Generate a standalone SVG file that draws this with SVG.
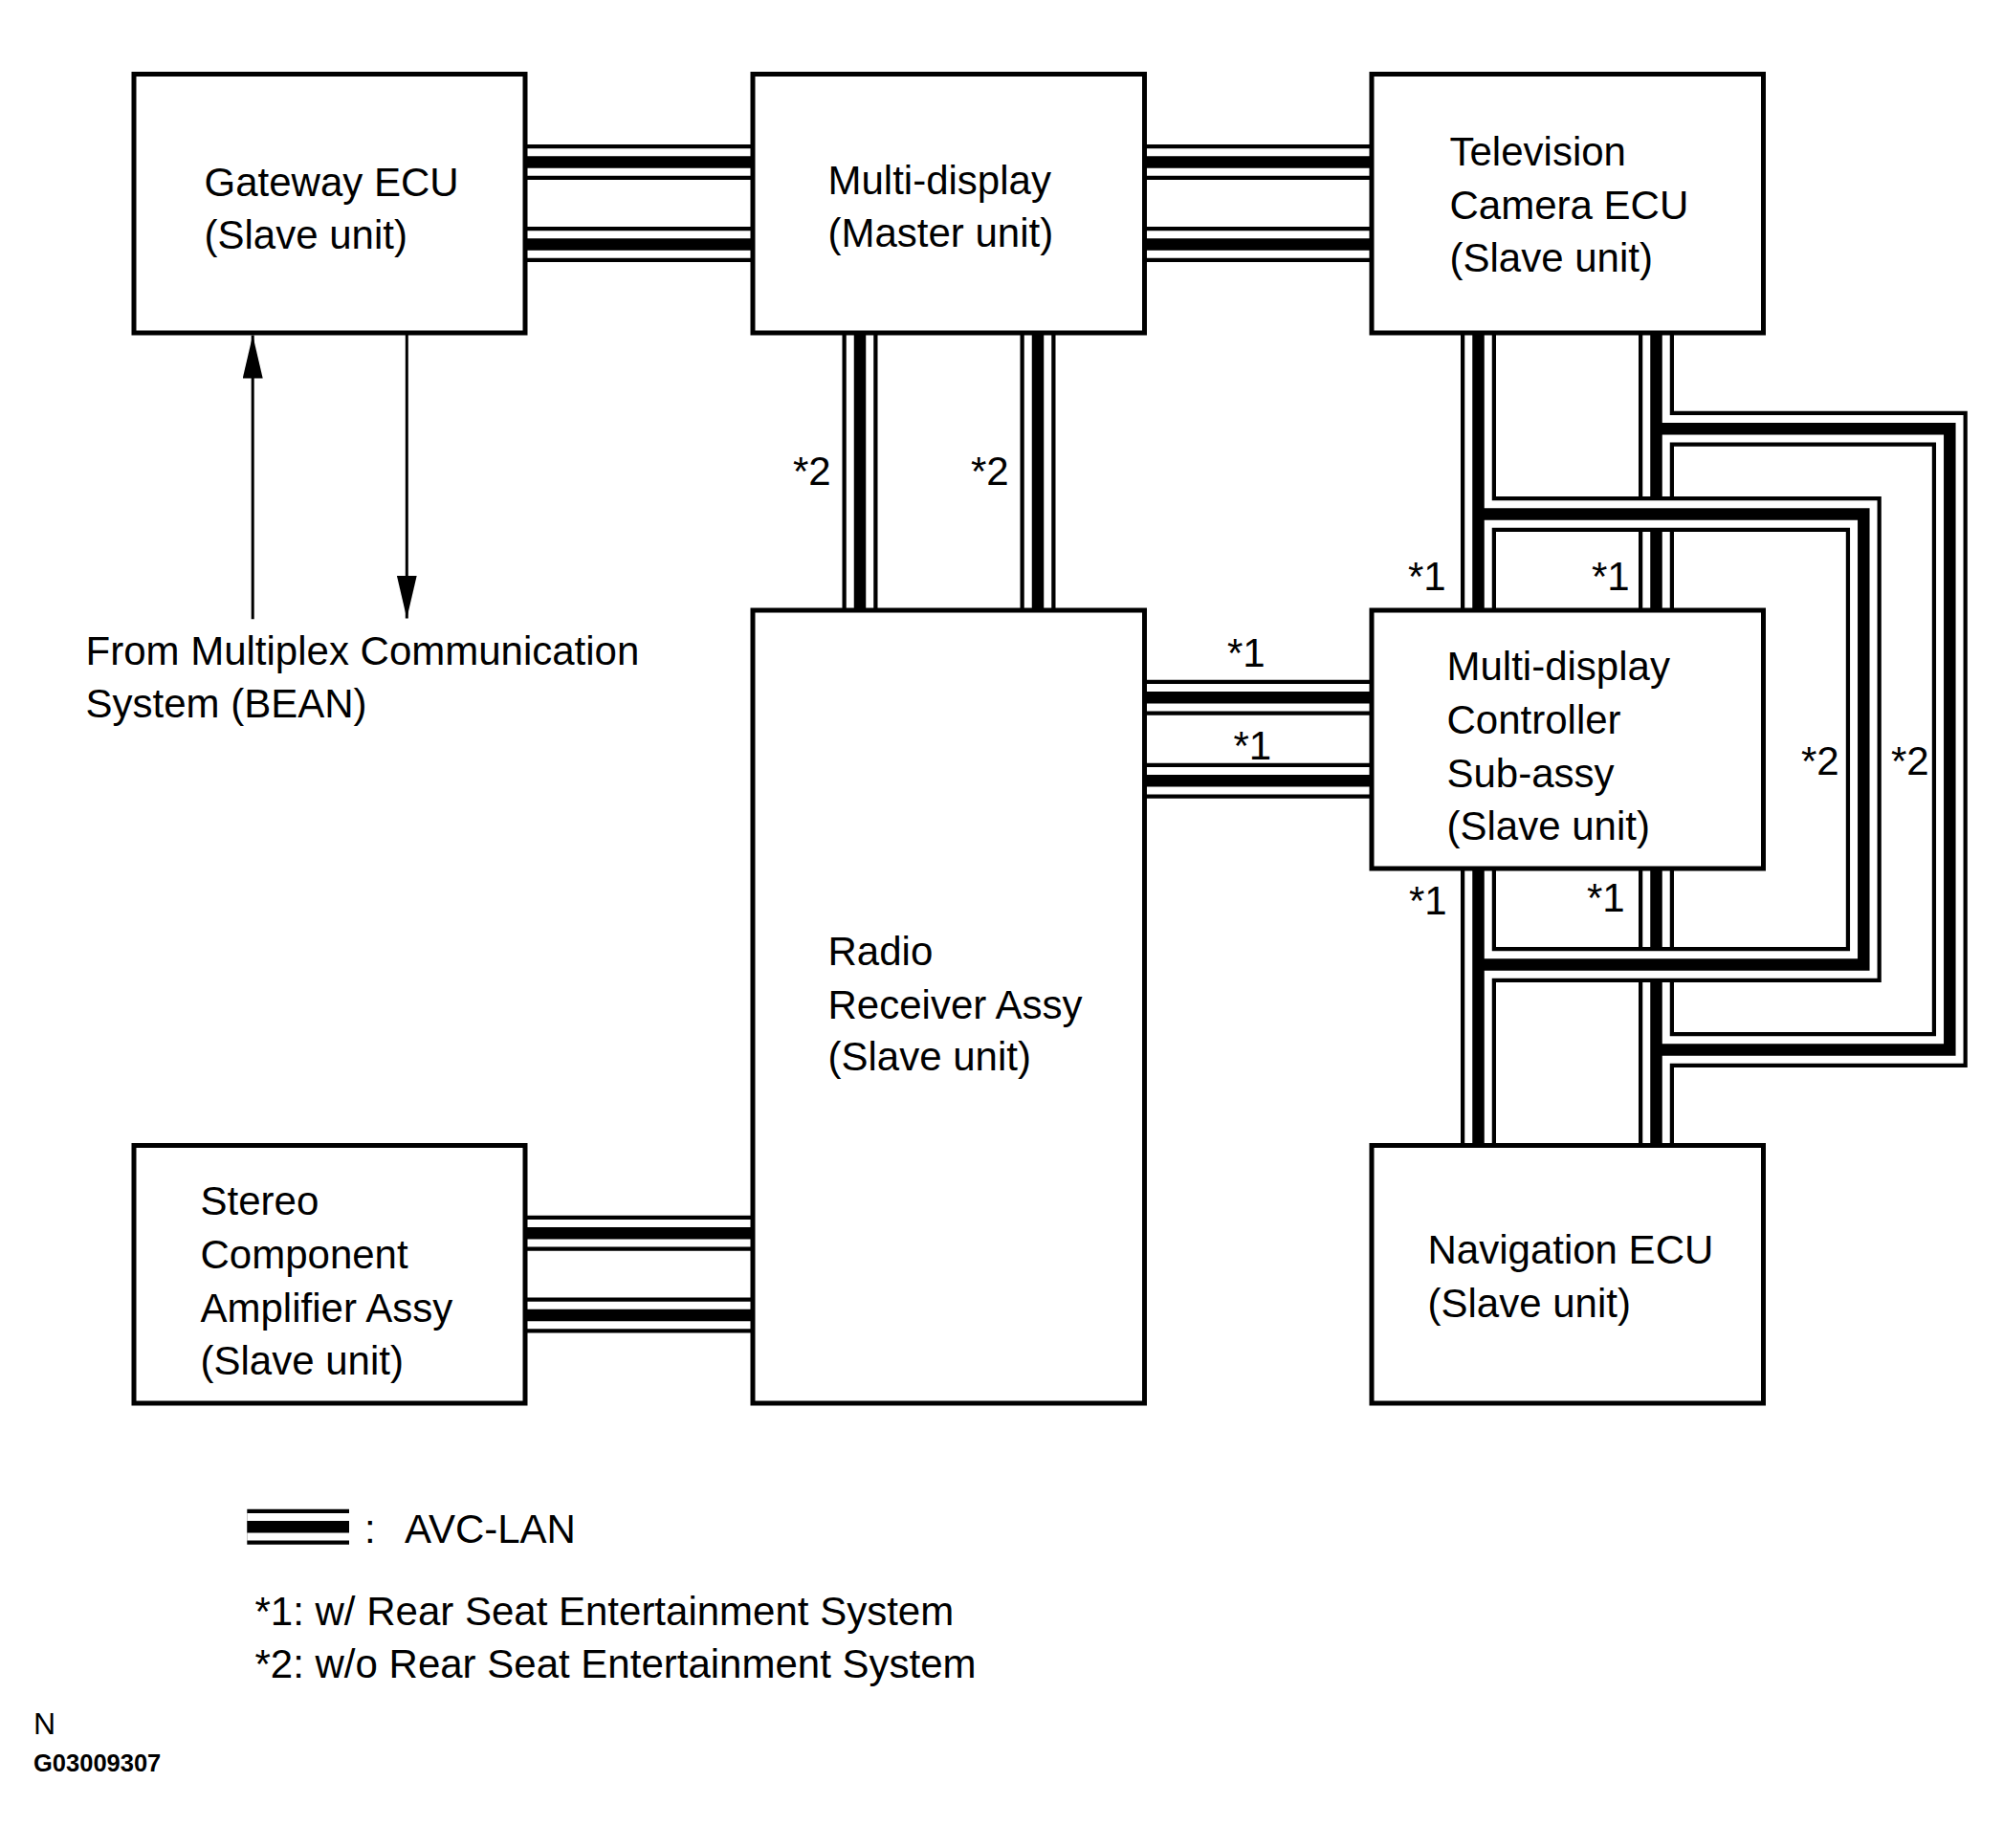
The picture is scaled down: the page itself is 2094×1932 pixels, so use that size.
<svg xmlns="http://www.w3.org/2000/svg" width="2094" height="1932" viewBox="0 0 2094 1932">
<style>
.k1{fill:none;stroke:#000;stroke-width:37;stroke-linejoin:miter;stroke-linecap:butt}
.k2{fill:none;stroke:#fff;stroke-width:28.5;stroke-linejoin:miter;stroke-linecap:butt}
.k3{fill:none;stroke:#000;stroke-width:12.5;stroke-linejoin:miter;stroke-linecap:butt}
.box{fill:#fff;stroke:#000;stroke-width:5}
.t{font-family:"Liberation Sans",Arial,Helvetica,sans-serif;font-size:42px;fill:#000}
.sig{fill:none;stroke:#000;stroke-width:3;marker-end:url(#ah)}
</style>
<defs>
<marker id="ah" markerUnits="userSpaceOnUse" markerWidth="46" markerHeight="22" refX="45" refY="10.5" orient="auto">
<path d="M0,0 L45,10.5 L0,21 Z" fill="#000"/>
</marker>
<path id="busA" d="M549 169.5H787 M549 255.5H787 M1196.5 169.5H1434 M1196.5 255.5H1434 M899 348V638 M1085 348V638 M1196.5 729.3H1434 M1196.5 816.3H1434 M549 1289.2H787 M549 1375H787"/>
<path id="busR" d="M1731.5 348V638 M1731.5 908V1197.5 M1731.5 448.3H2038.3V1097.5H1731.5"/>
<path id="busL" d="M1545.5 348V638 M1545.5 908V1197.5 M1545.5 537.4H1948.3V1008.5H1545.5"/>
<path id="busLeg" d="M258.3 1596.3H365"/>
</defs>
<rect width="2094" height="1932" fill="#fff"/>
<g id="connectors">
<use href="#busA" class="k1"/><use href="#busA" class="k2"/><use href="#busA" class="k3"/>
<use href="#busR" class="k1"/><use href="#busR" class="k2"/><use href="#busR" class="k3"/>
<use href="#busL" class="k1"/><use href="#busL" class="k2"/><use href="#busL" class="k3"/>
<line class="sig" x1="264.2" y1="647.3" x2="264.2" y2="350.5"/>
<line class="sig" x1="425.3" y1="348" x2="425.3" y2="646.5"/>
<text class="t" x="829" y="507">*2</text>
<text class="t" x="1015" y="507">*2</text>
<text class="t" x="1472" y="617">*1</text>
<text class="t" x="1664" y="617">*1</text>
<text class="t" x="1473" y="956">*1</text>
<text class="t" x="1659" y="953">*1</text>
<text class="t" x="1283" y="697">*1</text>
<text class="t" x="1289.5" y="794">*1</text>
<text class="t" x="1883" y="810">*2</text>
<text class="t" x="1977" y="810">*2</text>
</g>
<g id="gateway">
<rect class="box" x="140" y="77.5" width="409" height="270.5"/>
<text class="t" x="213.5" y="204.6">Gateway ECU</text>
<text class="t" x="213.5" y="259.5">(Slave unit)</text>
</g>
<g id="multi-display">
<rect class="box" x="787" y="77.5" width="409.5" height="270.5"/>
<text class="t" x="865.5" y="203">Multi-display</text>
<text class="t" x="865.5" y="258">(Master unit)</text>
</g>
<g id="tv-camera">
<rect class="box" x="1434" y="77.5" width="409.5" height="270.5"/>
<text class="t" x="1515.5" y="173">Television</text>
<text class="t" x="1515.5" y="228.5">Camera ECU</text>
<text class="t" x="1515.5" y="284">(Slave unit)</text>
</g>
<g id="radio">
<rect class="box" x="787" y="638" width="409.5" height="829"/>
<text class="t" x="865.5" y="1008.6">Radio</text>
<text class="t" x="865.5" y="1064.7">Receiver Assy</text>
<text class="t" x="865.5" y="1119.4">(Slave unit)</text>
</g>
<g id="mdc">
<rect class="box" x="1434" y="638" width="409.5" height="270"/>
<text class="t" x="1512.5" y="711">Multi-display</text>
<text class="t" x="1512.5" y="767">Controller</text>
<text class="t" x="1512.5" y="823">Sub-assy</text>
<text class="t" x="1512.5" y="878">(Slave unit)</text>
</g>
<g id="stereo">
<rect class="box" x="140" y="1197.5" width="409" height="269.5"/>
<text class="t" x="209.5" y="1270">Stereo</text>
<text class="t" x="209.5" y="1326">Component</text>
<text class="t" x="209.5" y="1382">Amplifier Assy</text>
<text class="t" x="209.5" y="1437">(Slave unit)</text>
</g>
<g id="navigation">
<rect class="box" x="1434" y="1197.5" width="409.5" height="269.5"/>
<text class="t" x="1492.5" y="1321">Navigation ECU</text>
<text class="t" x="1492.5" y="1377">(Slave unit)</text>
</g>
<g id="bean">
<text class="t" x="89.5" y="695">From Multiplex Communication</text>
<text class="t" x="89.5" y="750">System (BEAN)</text>
</g>
<g id="legend">
<use href="#busLeg" class="k1"/><use href="#busLeg" class="k2"/><use href="#busLeg" class="k3"/>
<text class="t" x="381" y="1613">:</text>
<text class="t" x="423" y="1613">AVC-LAN</text>
<text class="t" x="266.5" y="1699">*1: w/ Rear Seat Entertainment System</text>
<text class="t" x="266.5" y="1754">*2: w/o Rear Seat Entertainment System</text>
</g>
<g id="footer">
<text x="35" y="1812.7" style="font-family:'Liberation Sans',Arial,sans-serif;font-size:32px">N</text>
<text x="35" y="1852.3" style="font-family:'Liberation Sans',Arial,sans-serif;font-size:25.5px;font-weight:bold">G03009307</text>
</g>
</svg>
